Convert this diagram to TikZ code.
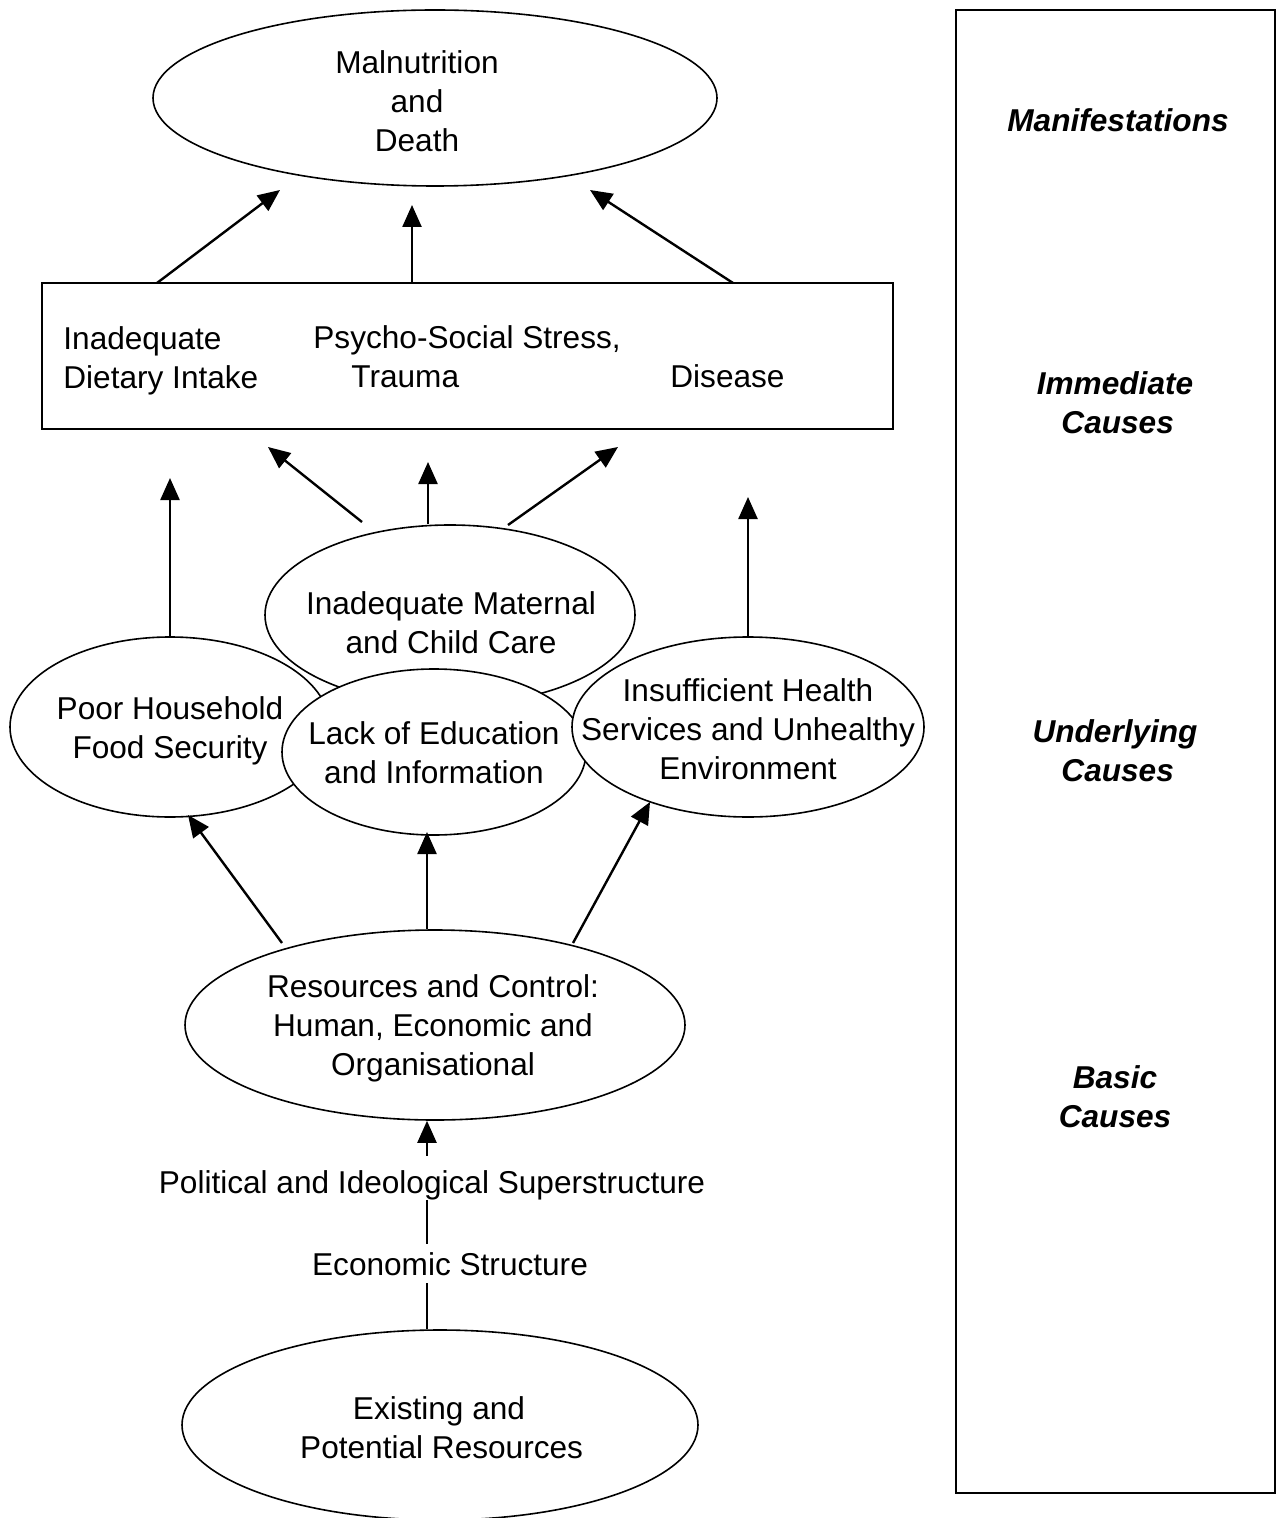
\documentclass[tikz,border=0pt]{standalone}
\usepackage{fontspec}
\setmainfont{Liberation Sans}
\usetikzlibrary{arrows.meta, shapes.geometric}

\tikzset{
  cause/.style={draw, ellipse, fill=white, line width=0.8pt, inner sep=0pt},
  arr/.style={-{Triangle[length=11pt,width=9.5pt]}, line width=1.2pt},
  thin line/.style={line width=0.8pt},
  txt/.style={align=center, inner sep=0pt},
  level/.style={font=\fontsize{15.8}{19.5}\selectfont\bfseries\itshape, align=center, inner sep=0pt},
}

\begin{document}
\begin{tikzpicture}[x=0.5pt, y=-0.5pt, font=\fontsize{15.8}{19.5}\selectfont]
      \useasboundingbox (0,0) rectangle (1277,1518);

      % 1. manifestations
      \node[cause, minimum width=282pt, minimum height=88pt] (mal) at (435,98) {};
      \node[txt] (maltext) at (417,101) {Malnutrition\\and\\Death};

      % 2. immediate causes
      \node[draw, line width=1pt, inner sep=0pt, minimum width=425.5pt, minimum height=73pt] (imm) at (467.5,356) {};
      \node[txt, align=left, anchor=west] (diet) at (63,361) {Inadequate\\Dietary Intake};
      \node[txt, anchor=base west] (stress) at (313,349) {Psycho-Social Stress,};
      \node[txt, anchor=base west] (trauma) at (351,388) {Trauma};
      \node[txt, anchor=base west] (disease) at (670,388) {Disease};

      % 3. underlying causes (drawn in this order, each one hides the last)
      \node[cause, minimum width=160pt, minimum height=90pt] (poor) at (170,727) {};
      \node[txt] (poortext) at (170,731) {Poor Household\\Food Security};
      \node[cause, minimum width=185pt, minimum height=90pt] (mat) at (450,615) {};
      \node[txt] (mattext) at (451,623) {Inadequate Maternal\\and Child Care};
      \node[cause, minimum width=152pt, minimum height=83pt] (lack) at (434,752) {};
      \node[txt] (lacktext) at (434,753) {Lack of Education\\and Information};
      \node[cause, minimum width=176pt, minimum height=90pt] (ins) at (748,727) {};
      \node[txt] (instext) at (748,729) {Insufficient Health\\Services and Unhealthy\\Environment};

      % 4. basic causes
      \node[cause, minimum width=250pt, minimum height=95pt] (res) at (435,1025) {};
      \node[txt] (restext) at (433,1028) {Resources and Control:\\Human, Economic and\\Organisational};
      \node[txt] (pol) at (432,1185) {Political and Ideological Superstructure};
      \node[txt] (eco) at (450,1264) {Economic Structure};
      \node[cause, minimum width=258pt, minimum height=95pt] (exist) at (440,1425) {};
      \node[txt] (existtext) at (439,1428) {Existing and\\\,Potential Resources};

      % 5. side column with the levels
      \node[draw, line width=1pt, inner sep=0pt, minimum width=159.5pt, minimum height=741.5pt] (side) at (1115.5,751.5) {};
      \node[level] (lman) at (1118,120) {Manifestations};
      \node[level] (limm) at (1115,403) {Immediate\\\,Causes};
      \node[level] (lund) at (1115,751) {Underlying\\\,Causes};
      \node[level] (lbas) at (1115,1097) {Basic\\Causes};

      % 6. end points of the arrows
      \coordinate (i1) at (157,283);
      \coordinate (i2) at (412,283);
      \coordinate (i3) at (733,283);
      \coordinate (m1) at (280,190);
      \coordinate (m2) at (412,205);
      \coordinate (m3) at (590,190);
      \coordinate (k1) at (362,522);
      \coordinate (k3) at (508,525);
      \coordinate (u1) at (170,478);
      \coordinate (u2) at (268,447);
      \coordinate (u3) at (428,462);
      \coordinate (u4) at (618,447);
      \coordinate (u5) at (748,497);
      \coordinate (r1) at (282,943);
      \coordinate (r3) at (573,943);
      \coordinate (l1) at (188,815);
      \coordinate (l2) at (427,832);
      \coordinate (l3) at (650,802);
      \coordinate (axis) at (427,0);

      % 7. arrows
      \draw[arr] (i1) -- (m1);
      \draw[arr] (i2) -- (m2);
      \draw[arr] (i3) -- (m3);
      \draw[arr] (poor.north) -- (u1);
      \draw[arr] (k1) -- (u2);
      \draw[arr] (mat.north -| u3) -- (u3);
      \draw[arr] (k3) -- (u4);
      \draw[arr] (ins.north) -- (u5);
      \draw[arr] (r1) -- (l1);
      \draw[arr] (res.north -| l2) -- (l2);
      \draw[arr] (r3) -- (l3);
      \draw[arr] ([yshift=7pt]pol.north -| axis) -- (res.south -| axis);
      \draw[thin line] (pol.south -| axis) -- ([yshift=4pt]eco.north -| axis);
      \draw[thin line] ([yshift=-3.5pt]eco.south -| axis) -- (exist.north -| axis);
    \end{tikzpicture}
\end{document}
